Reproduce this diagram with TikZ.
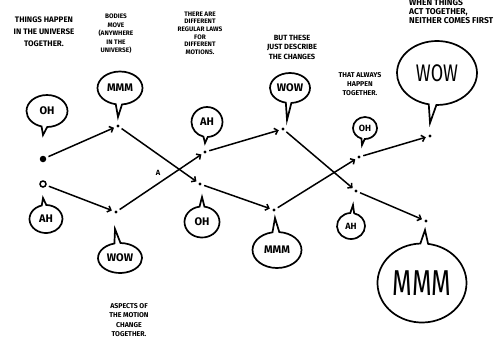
\documentclass[tikz,border=0pt]{standalone}
\usepackage{fontspec}
\setmainfont{Fira Sans}
\usepackage{graphicx}
\usetikzlibrary{arrows.meta,shapes.callouts}

\tikzset{
  pt/.style={circle,fill,inner sep=0pt,minimum size=3.4pt},
  flow/.style={line width=1.5pt,-{Straight Barb[length=3.2pt,width=6.5pt]},shorten >=2.5pt,shorten <=2.5pt},
  bubble/.style={ellipse callout,draw,fill=white,line width=1.7pt,inner sep=0pt,callout pointer arc=16,
    font=\fontsize{11}{11}\selectfont\bfseries},
  note/.style={align=center,inner sep=0pt,font=\fontsize{7}{9}\selectfont\bfseries}
}

\begin{document}
\begin{tikzpicture}[x=1pt,y=-1pt]
\useasboundingbox (0,0) rectangle (503,338);
% the two starting bodies and the points they pass
\node[pt,minimum size=6.5pt] (s1) at (43,159) {};
\node[circle,draw,line width=1.5pt,inner sep=0pt,minimum size=6pt] (s2) at (43,184) {};
\foreach \n/\p in {p1/{118,126},p2/{116,212},q1/{205,152},q2/{200,184},r1/{283,129},r2/{274,210},
  u1/{359,157},u2/{356,191},v1/{430,136},v2/{426,221}}{\node[pt] (\n) at (\p) {};}
\foreach \a/\b in {s1/p1,s2/p2,p1/q2,p2/q1,q1/r1,q2/r2,r1/u2,r2/u1,u1/v1,u2/v2}{\draw[flow] (\a) -- (\b);}
\node[font=\fontsize{7.5}{7.5}\selectfont\bfseries] (lblA) at (158,173) {A};
% speech bubbles
\node[bubble,minimum width=41pt,minimum height=32pt,callout absolute pointer={(43,135)}] (oh1) at (47,111) {OH};
\node[bubble,minimum width=45pt,minimum height=33pt,callout absolute pointer={(118,117)}] (mmm1) at (120,88) {MMM};
\node[bubble,minimum width=33pt,minimum height=28pt,callout absolute pointer={(43,198)}] (ah1) at (46,219) {AH};
\node[bubble,minimum width=44pt,minimum height=30pt,callout absolute pointer={(115,229)}] (wow1) at (120,258) {WOW};
\node[bubble,minimum width=31pt,minimum height=30pt,callout absolute pointer={(205,143)}] (ah2) at (207,122) {AH};
\node[bubble,minimum width=35pt,minimum height=31pt,callout absolute pointer={(202,197)}] (oh2) at (202,222) {OH};
\node[bubble,minimum width=40pt,minimum height=30pt,callout absolute pointer={(287,120)}] (wow2) at (290,88) {WOW};
\node[bubble,minimum width=49pt,minimum height=36pt,callout absolute pointer={(275,218)}] (mmm2) at (277,250) {MMM};
\node[bubble,minimum width=24pt,minimum height=22pt,font=\fontsize{9}{9}\selectfont\bfseries,
  callout absolute pointer={(362,145)}] (oh3) at (365,128) {OH};
\node[bubble,minimum width=28pt,minimum height=26pt,font=\fontsize{9}{9}\selectfont\bfseries,
  callout absolute pointer={(353,205)}] (ah3) at (351,226) {AH};
\node[bubble,minimum width=80pt,minimum height=64pt,callout pointer arc=11,font=\fontsize{24}{24}\selectfont,
  callout absolute pointer={(430,123)}] (wow3) at (437,73) {\scalebox{.75}[1]{WOW}};
\node[bubble,minimum width=89pt,minimum height=79pt,callout pointer arc=10,font=\fontsize{36}{36}\selectfont,
  callout absolute pointer={(425,230)}] (mmm3) at (422,283) {\scalebox{.7}[1]{MMM}};
% hand notes
\node[note,font=\fontsize{8}{12}\selectfont\bfseries] (things) at (44,32) {THINGS HAPPEN\\IN THE UNIVERSE\\TOGETHER.};
\node[note,font=\fontsize{6.5}{8.5}\selectfont\bfseries] (bodies) at (116,34) {BODIES\\MOVE\\(ANYWHERE\\IN THE\\UNIVERSE)};
\node[note,font=\fontsize{6.5}{7.6}\selectfont\bfseries] (laws) at (200,33) {THERE ARE\\DIFFERENT\\REGULAR LAWS\\FOR\\DIFFERENT\\MOTIONS.};
\node[note,font=\fontsize{7.5}{9.5}\selectfont\bfseries] (describe) at (292,47) {BUT THESE\\JUST DESCRIBE\\THE CHANGES};
\node[note,align=left,anchor=west,font=\fontsize{8.5}{9}\selectfont\bfseries] (first) at (409,12) {WHEN THINGS\\ACT TOGETHER,\\NEITHER COMES FIRST};
\node[note] (always) at (360,84) {THAT ALWAYS\\HAPPEN\\TOGETHER.};
\node[note,font=\fontsize{7}{9.3}\selectfont\bfseries] (aspects) at (129,320) {ASPECTS OF\\THE MOTION\\CHANGE\\TOGETHER.};
\end{tikzpicture}
\end{document}
